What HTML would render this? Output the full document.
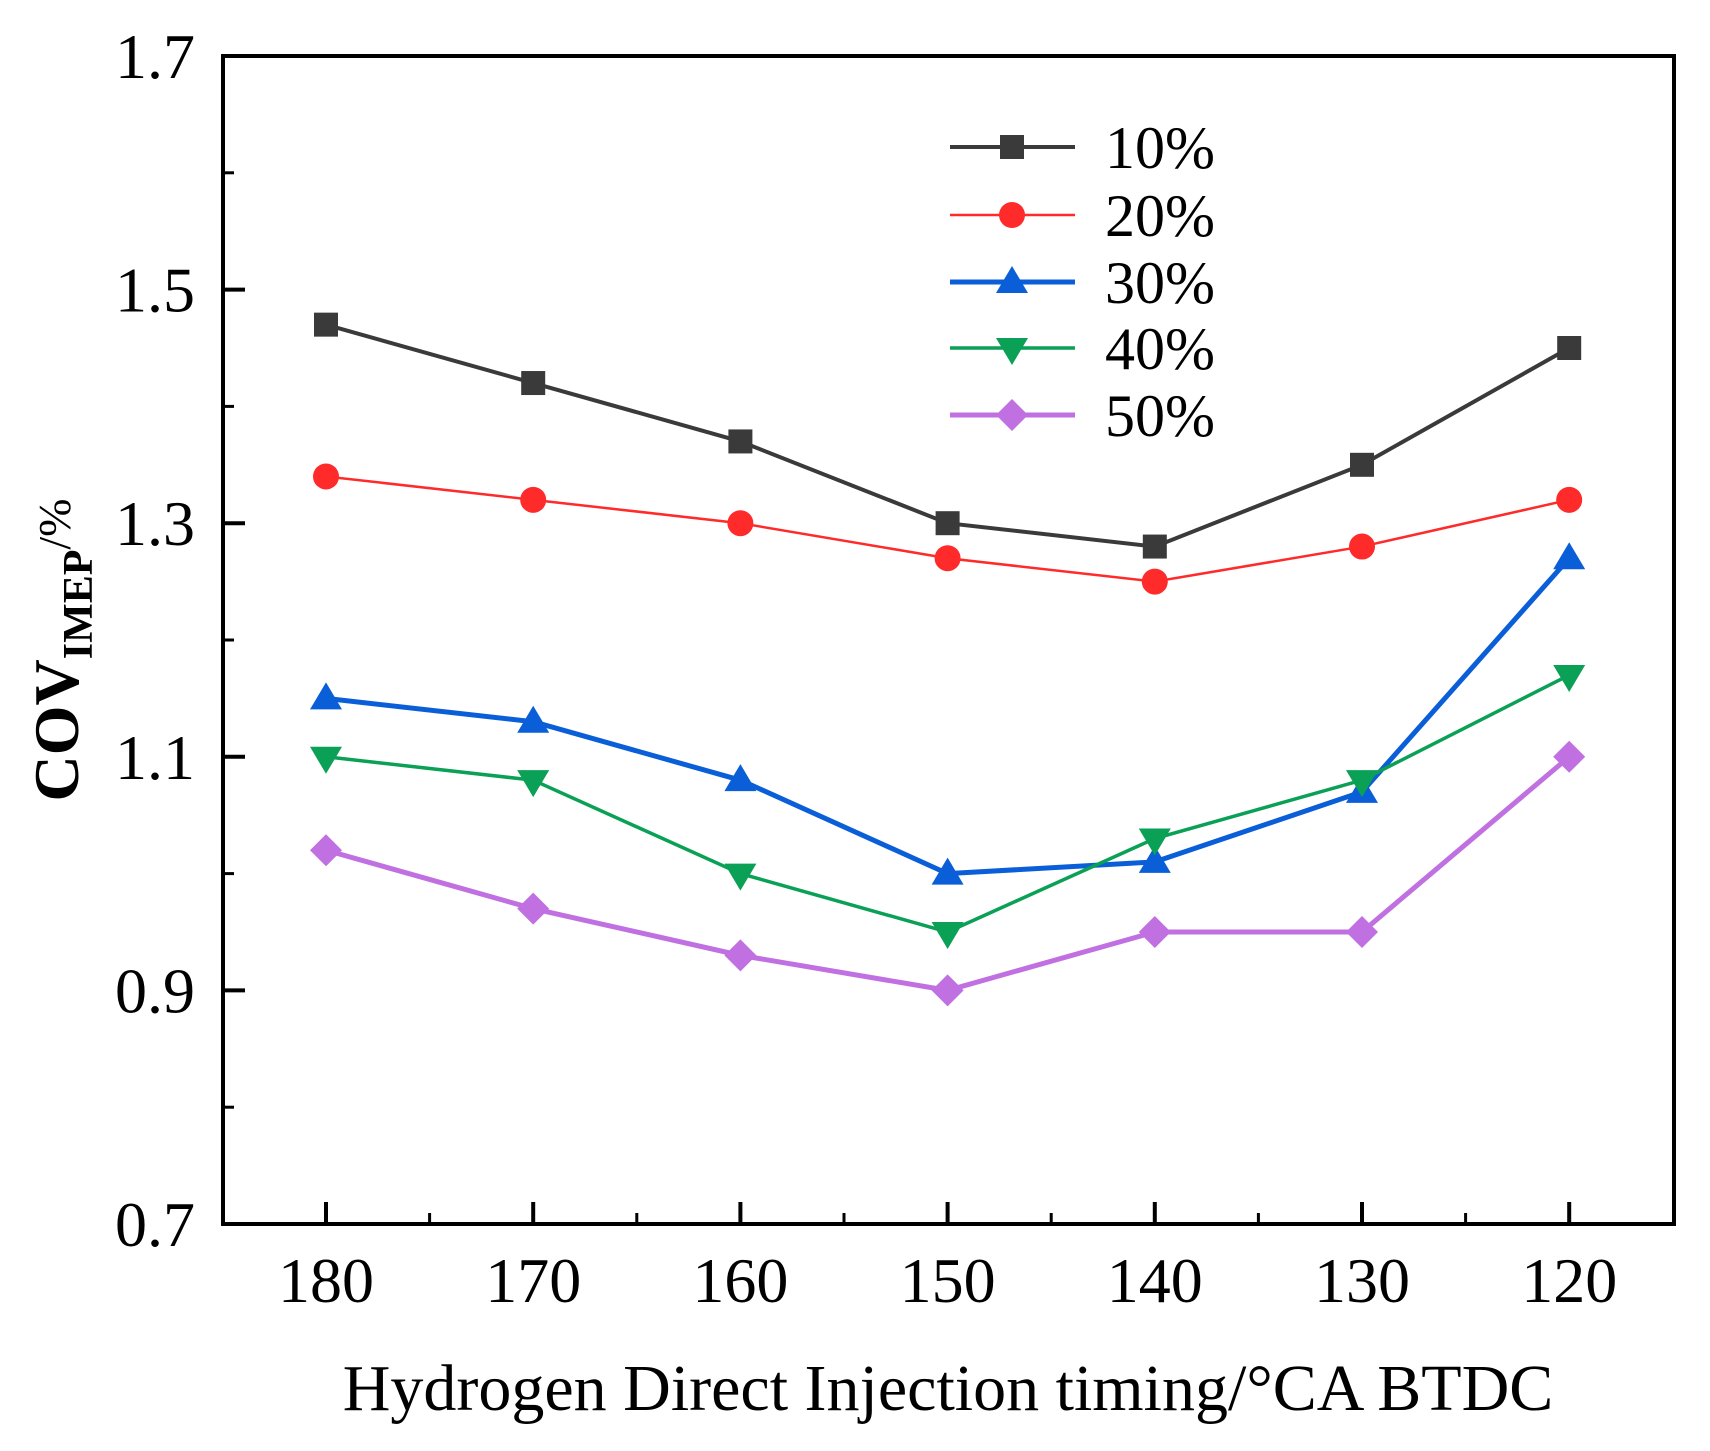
<!DOCTYPE html>
<html><head><meta charset="utf-8"><style>
html,body{margin:0;padding:0;background:#fff;}
svg{display:block;font-family:"Liberation Serif",serif;}
</style></head><body>
<svg id="chart" width="1710" height="1451" viewBox="0 0 1710 1451">
<g id="axes"></g><g id="series"></g><g id="legend"></g>
<text x="948" y="1410" font-size="66" text-anchor="middle">Hydrogen Direct Injection timing/°CA BTDC</text>
<text transform="translate(78,650) rotate(-90)" font-size="64" font-weight="bold" text-anchor="middle">COV<tspan font-size="42" dy="14">IMEP</tspan><tspan font-size="46" font-weight="normal" dy="-22">/%</tspan></text>
</svg>
<script>
const categories=[180,170,160,150,140,130,120];
const yTicks=[0.7,0.9,1.1,1.3,1.5,1.7];
const s10=[1.47,1.42,1.37,1.30,1.28,1.35,1.45];
const s20=[1.34,1.32,1.30,1.27,1.25,1.28,1.32];
const s30=[1.15,1.13,1.08,1.00,1.01,1.07,1.27];
const s40=[1.10,1.08,1.00,0.95,1.03,1.08,1.17];
const s50=[1.02,0.97,0.93,0.90,0.95,0.95,1.10];
const seriesNames=["10%","20%","30%","40%","50%"];
const NS="http://www.w3.org/2000/svg";
const L=223,R=1674,T=56,B=1224;
const x0=326,dx=207.2;
function xs(i){return x0+i*dx;}
function ys(v){return B-(v-0.7)/1.0*(B-T);}
function mk(tag,at,parent){const e=document.createElementNS(NS,tag);for(const k in at)e.setAttribute(k,at[k]);parent.appendChild(e);return e;}
const ax=document.getElementById('axes');
const frame=mk('rect',{x:L,y:T,width:R-L,height:B-T,fill:'none',stroke:'#000','stroke-width':4},ax);


categories.forEach((c,i)=>{
  const x=xs(i);
  const t=mk('line',{x1:x,x2:x,y1:B,y2:B-22,stroke:'#000','stroke-width':4},ax);
  
  
  if(i<categories.length-1){
    const m=mk('line',{x1:x+dx/2,x2:x+dx/2,y1:B,y2:B-11,stroke:'#000','stroke-width':3},ax);
    
    
  }
  const lb=mk('text',{x:x,y:1302,'font-size':64,'text-anchor':'middle'},ax);
  lb.textContent=c;
  
  
});
for(let v=0.8;v<1.7;v+=0.2){
  const y=ys(v);
  const m=mk('line',{x1:L,x2:L+11,y1:y,y2:y,stroke:'#000','stroke-width':3},ax);
  
  
}
yTicks.forEach(v=>{
  const y=ys(v);
  const t=mk('line',{x1:L,x2:L+22,y1:y,y2:y,stroke:'#000','stroke-width':4},ax);
  
  
  const lb=mk('text',{x:195,y:y+22,'font-size':64,'text-anchor':'end'},ax);
  lb.textContent=v.toFixed(1);
  
  
});
const styles=[{c:'#3a3a3a',w:4,m:'square'},{c:'#ff2a2a',w:2.5,m:'circle'},{c:'#0a5fd8',w:5,m:'up'},{c:'#0aa055',w:3.5,m:'down'},{c:'#c070e0',w:5,m:'diamond'}];
const allData=[s10,s20,s30,s40,s50];
function marker(type,x,y,col,g){
  let e;
  if(type==='square')e=mk('rect',{x:x-12,y:y-12,width:24,height:24,fill:col},g);
  else if(type==='circle')e=mk('circle',{cx:x,cy:y,r:13,fill:col},g);
  else if(type==='up')e=mk('polygon',{points:`${x},${y-16} ${x+16},${y+11} ${x-16},${y+11}`,fill:col},g);
  else if(type==='down')e=mk('polygon',{points:`${x-16},${y-10} ${x+16},${y-10} ${x},${y+17}`,fill:col},g);
  else e=mk('polygon',{points:`${x},${y-16} ${x+16},${y} ${x},${y+16} ${x-16},${y}`,fill:col},g);
  return e;
}
const sg=document.getElementById('series');
allData.forEach((arr,si)=>{
  const st=styles[si];
  const g=mk('g',{},sg);
  
  
  const pl=mk('polyline',{points:arr.map((v,i)=>xs(i)+','+ys(v)).join(' '),fill:'none',stroke:st.c,'stroke-width':st.w},g);
  
  
  arr.forEach((v,i)=>{
    const m=marker(st.m,xs(i),ys(v),st.c,g);
    
    
  });
});
const lg=document.getElementById('legend');
const legendRows=[147,215,282,348,415];
seriesNames.forEach((n,si)=>{
  const st=styles[si];const y=legendRows[si];
  const g=mk('g',{},lg);
  
  
  mk('line',{x1:950,x2:1075,y1:y,y2:y,stroke:st.c,'stroke-width':st.w},g);
  marker(st.m,1012,y,st.c,g);
  const t=mk('text',{x:1105,y:y+21,'font-size':60},g);
  t.textContent=n;
});
</script>
</body></html>
